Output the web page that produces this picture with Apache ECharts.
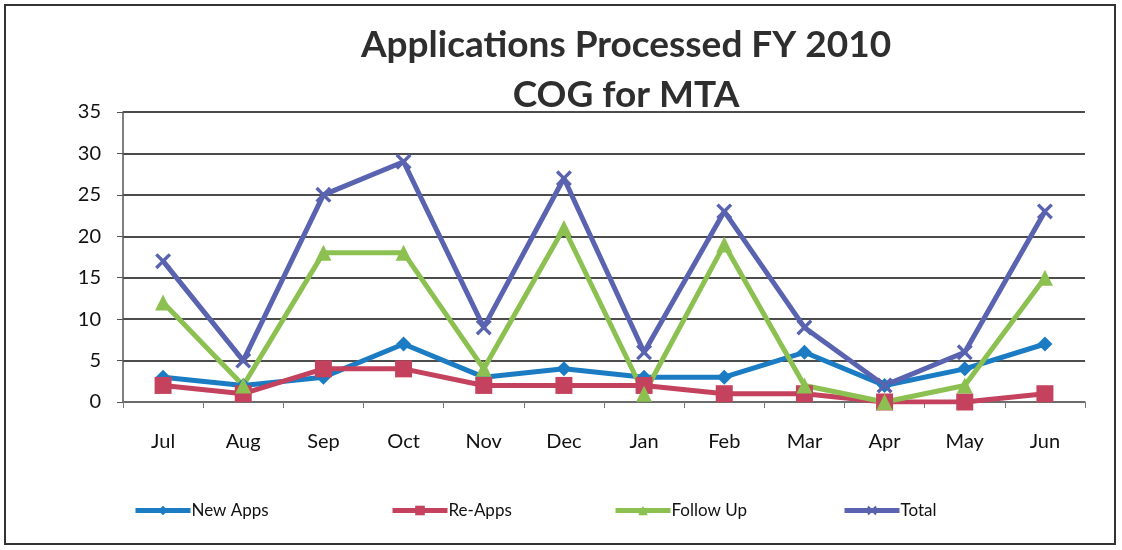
<!DOCTYPE html>
<html>
<head>
<meta charset="utf-8">
<script src="https://cdn.jsdelivr.net/npm/echarts@6/dist/echarts.min.js"></script>
<style>
html,body{margin:0;padding:0;background:#fff;}
#frame{position:absolute;left:4px;top:4px;width:1112px;height:541px;border:2px solid #333;box-sizing:border-box;}
#chart{position:absolute;left:0;top:0;width:1122px;height:550px;}
</style>
</head>
<body>
<div id="frame"></div>
<div id="chart"></div>
<script>
const months = ['Jul','Aug','Sep','Oct','Nov','Dec','Jan','Feb','Mar','Apr','May','Jun'];
const newApps = [3,2,3,7,3,4,3,3,6,2,4,7];
const reApps = [2,1,4,4,2,2,2,1,1,0,0,1];
const followUp = [12,2,18,18,4,21,1,19,2,0,2,15];
const total = [17,5,25,29,9,27,6,23,9,2,6,23];
const yTicks = [0,5,10,15,20,25,30,35];

const FONT = 'Lato, "Open Sans", sans-serif';
const xPath = 'path://M0,1.5L1.5,0L5,3.5L8.5,0L10,1.5L6.5,5L10,8.5L8.5,10L5,6.5L1.5,10L0,8.5L3.5,5Z';

const colors = {
  'New Apps': '#1b7cc4',
  'Re-Apps': '#c4425e',
  'Follow Up': '#8cc152',
  'Total': '#5a63b0'
};

function mkSeries(name, data, symbol, size) {
  return {
    name: name, type: 'line', data: data,
    symbol: symbol, symbolSize: size,
    showAllSymbol: true,
    lineStyle: {width: 5, color: colors[name]},
    itemStyle: {color: colors[name]},
    emphasis: {disabled: true},
    z: 3
  };
}

function mkLegend(name, left) {
  return {
    data: [name], left: left, top: 497,
    itemWidth: 55, itemHeight: 12, itemGap: 0,
    lineStyle: {width: 5},
    textStyle: {fontFamily: FONT, fontSize: 17, color: '#111', padding: [0,0,0,-4]},
    selectedMode: false
  };
}

const chart = echarts.init(document.getElementById('chart'), null, {renderer: 'canvas'});
chart.setOption({
  animation: false,
  backgroundColor: 'transparent',
  title: {
    text: 'Applications Processed FY 2010\nCOG for MTA',
    left: 621, top: 15, textAlign: 'center',
    textStyle: {fontFamily: FONT, fontWeight: 'bold', fontSize: 37, color: '#2e2e2e', lineHeight: 50}
  },
  legend: [
    mkLegend('New Apps', 128),
    mkLegend('Re-Apps', 385),
    mkLegend('Follow Up', 608),
    mkLegend('Total', 837)
  ],
  grid: {left: 123, right: 37, top: 112, bottom: 148, containLabel: false},
  xAxis: {
    type: 'category', data: months, boundaryGap: true,
    axisLine: {lineStyle: {color: '#777', width: 1.5}},
    axisTick: {show: true, length: 6, lineStyle: {color: '#777'}},
    axisLabel: {fontFamily: FONT, fontSize: 20, color: '#111', margin: 30}
  },
  yAxis: {
    type: 'value', min: 0, max: 35, interval: 5,
    axisLine: {show: true, lineStyle: {color: '#555', width: 1.5}},
    axisTick: {show: true, length: 6, inside: false, lineStyle: {color: '#555'}},
    axisLabel: {fontFamily: FONT, fontSize: 20, color: '#111', margin: 22,
      formatter: function(v){ return yTicks.indexOf(v) >= 0 ? String(v) : ''; }},
    splitLine: {lineStyle: {color: '#111', width: 1.5}}
  },
  series: [
    mkSeries('New Apps', newApps, 'diamond', 15),
    mkSeries('Re-Apps', reApps, 'rect', 17),
    mkSeries('Follow Up', followUp, 'triangle', 16),
    mkSeries('Total', total, xPath, 16)
  ]
});
</script>
</body>
</html>
